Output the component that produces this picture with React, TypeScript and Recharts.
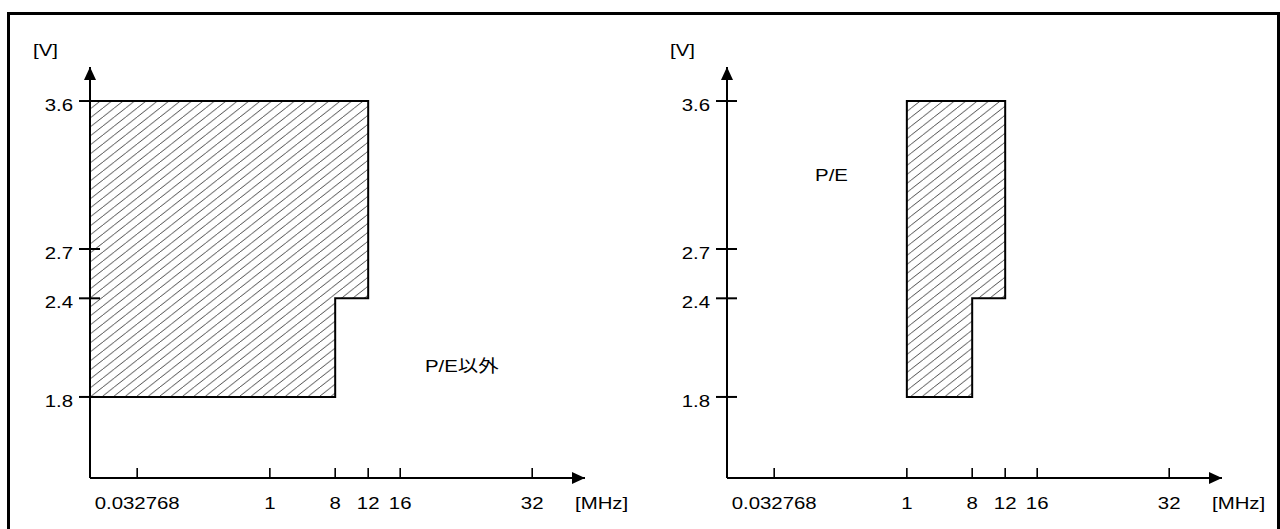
import React from "react";
import { ComposedChart, Area, Line, XAxis, YAxis, ReferenceDot, Label } from "recharts";

// frequency axis is schematic (not to scale): each tick frequency sits at a fixed slot
const freqMHz = [0.032768, 1, 8, 12, 16, 32];
const freqLabels = ["0.032768", "1", "8", "12", "16", "32"];
const freqSlots = [1.43, 5.45, 7.43, 8.43, 9.4, 13.4];

const voltTicks = [1.8, 2.4, 2.7, 3.6];

// operating range, modes other than P/E
const otherMHz = [0, 8, 8, 12];
const otherLowV = [1.8, 1.8, 2.4, 2.4];
const otherHighV = [3.6, 3.6, 3.6, 3.6];

// operating range, P/E mode
const peMHz = [1, 8, 8, 12];
const peLowV = [1.8, 1.8, 2.4, 2.4];
const peHighV = [3.6, 3.6, 3.6, 3.6];

const FONT = "'Liberation Sans', Arial, 'Noto Sans CJK JP', sans-serif";
const SX = 1.2; // the source figure is stretched horizontally
const Y_GAP = 17;
const X_GAP = 24;

const slot = (mhz: number) => (mhz === 0 ? 0 : freqSlots[freqMHz.indexOf(mhz)]);

const toBand = (mhz: number[], low: number[], high: number[]) =>
  mhz.map((m, i) => ({ x: slot(m), v: [low[i], high[i]] }));

const toOutline = (mhz: number[], low: number[], high: number[]) => [
  { x: slot(mhz[0]), y: low[0] },
  ...mhz.map((m, i) => ({ x: slot(m), y: high[i] })),
  ...mhz.map((m, i) => ({ x: slot(m), y: low[i] })).reverse(),
];

const StretchText = ({ x, y, anchor, children }: any) => (
  <text
    transform={`translate(${x} ${y}) scale(${SX} 1)`}
    textAnchor={anchor}
    fontSize={17}
    fontFamily={FONT}
    fill="#000"
  >
    {children}
  </text>
);

const YTick = (props: any) => {
  const { x, y, payload } = props;
  const axisX = x + Y_GAP;
  return (
    <g>
      <line x1={axisX - 11} x2={axisX + 10} y1={y} y2={y} stroke="#000" strokeWidth={2} />
      <StretchText x={x} y={y + 10} anchor="end">
        {Number(payload.value).toFixed(1)}
      </StretchText>
    </g>
  );
};

const XTick = (props: any) => {
  const { x, y, payload } = props;
  const axisY = y - X_GAP;
  let idx = 0;
  freqSlots.forEach((s, i) => {
    if (Math.abs(s - payload.value) < Math.abs(freqSlots[idx] - payload.value)) idx = i;
  });
  return (
    <g>
      <line x1={x} x2={x} y1={axisY - 10} y2={axisY} stroke="#000" strokeWidth={1.6} />
      <StretchText x={x} y={axisY + 30.5} anchor="middle">
        {freqLabels[idx]}
      </StretchText>
    </g>
  );
};

interface EnvelopeProps {
  mhz: number[];
  low: number[];
  high: number[];
  note: string;
  noteSlot: number;
  noteV: number;
}

const Envelope = ({ mhz, low, high, note, noteSlot, noteV }: EnvelopeProps) => {
  const band = toBand(mhz, low, high);
  const outline = toOutline(mhz, low, high);
  return (
    <ComposedChart width={640} height={529} margin={{ top: 67, right: 55, bottom: 11, left: 30 }}>
      <XAxis
        type="number"
        dataKey="x"
        domain={[0, 15]}
        ticks={freqSlots}
        interval={0}
        height={40}
        tickSize={0}
        tickMargin={X_GAP}
        tickLine={false}
        tick={<XTick />}
        axisLine={{ stroke: "#000", strokeWidth: 2, markerEnd: "url(#axisArrow)" }}
      >
        <Label
          content={({ viewBox }: any) =>
            viewBox ? (
              <StretchText x={viewBox.x + viewBox.width - 10} y={viewBox.y + 30.5} anchor="start">
                [MHz]
              </StretchText>
            ) : null
          }
        />
      </XAxis>
      <YAxis
        type="number"
        domain={[1.307, 3.807]}
        ticks={voltTicks}
        interval={0}
        width={60}
        tickSize={0}
        tickMargin={Y_GAP}
        tickLine={false}
        tick={<YTick />}
        axisLine={{ stroke: "#000", strokeWidth: 2, markerStart: "url(#axisArrow)" }}
      >
        <Label
          content={({ viewBox }: any) =>
            viewBox ? (
              <StretchText x={viewBox.x + viewBox.width - 44.5} y={viewBox.y - 11} anchor="middle">
                [V]
              </StretchText>
            ) : null
          }
        />
      </YAxis>
      <Area
        type="linear"
        data={band}
        dataKey="v"
        fill="url(#hatch)"
        fillOpacity={1}
        stroke="none"
        dot={false}
        activeDot={false}
        isAnimationActive={false}
      />
      <Line
        type="linear"
        data={outline}
        dataKey="y"
        stroke="#000"
        strokeWidth={2}
        strokeLinejoin="miter"
        strokeLinecap="square"
        dot={false}
        activeDot={false}
        isAnimationActive={false}
      />
      <ReferenceDot
        x={noteSlot}
        y={noteV}
        r={0}
        shape={(p: any) => (
          <StretchText x={p.cx} y={p.cy + 6} anchor="start">
            {note}
          </StretchText>
        )}
      />
    </ComposedChart>
  );
};

export default function App() {
  return (
    <div
      style={{
        position: "fixed",
        left: 0,
        top: 0,
        width: 1280,
        height: 529,
        overflow: "hidden",
        background: "#fff",
      }}
    >
      <svg width={0} height={0} style={{ position: "absolute" }}>
        <defs>
          <pattern id="hatch" patternUnits="userSpaceOnUse" width={11.43} height={9}>
            <rect width={11.43} height={9} fill="#fff" />
            <path
              d="M0,9 L11.43,0 M-11.43,9 L0,0 M11.43,9 L22.86,0"
              stroke="#222"
              strokeWidth={0.8}
            />
          </pattern>
          <marker
            id="axisArrow"
            viewBox="0 0 13 12"
            refX={13}
            refY={6}
            markerWidth={13}
            markerHeight={12}
            markerUnits="userSpaceOnUse"
            orient="auto-start-reverse"
          >
            <path d="M0,0 L13,6 L0,12 z" fill="#000" />
          </marker>
        </defs>
      </svg>
      <div
        style={{
          position: "absolute",
          left: 7,
          top: 12,
          width: 1273,
          height: 600,
          border: "3px solid #000",
          boxSizing: "border-box",
        }}
      />
      <div style={{ position: "absolute", left: 0, top: 0 }}>
        <Envelope
          mhz={otherMHz}
          low={otherLowV}
          high={otherHighV}
          note="P/E以外"
          noteSlot={10.15}
          noteV={1.99}
        />
      </div>
      <div style={{ position: "absolute", left: 637, top: 0 }}>
        <Envelope mhz={peMHz} low={peLowV} high={peHighV} note="P/E" noteSlot={2.67} noteV={3.153} />
      </div>
    </div>
  );
}
